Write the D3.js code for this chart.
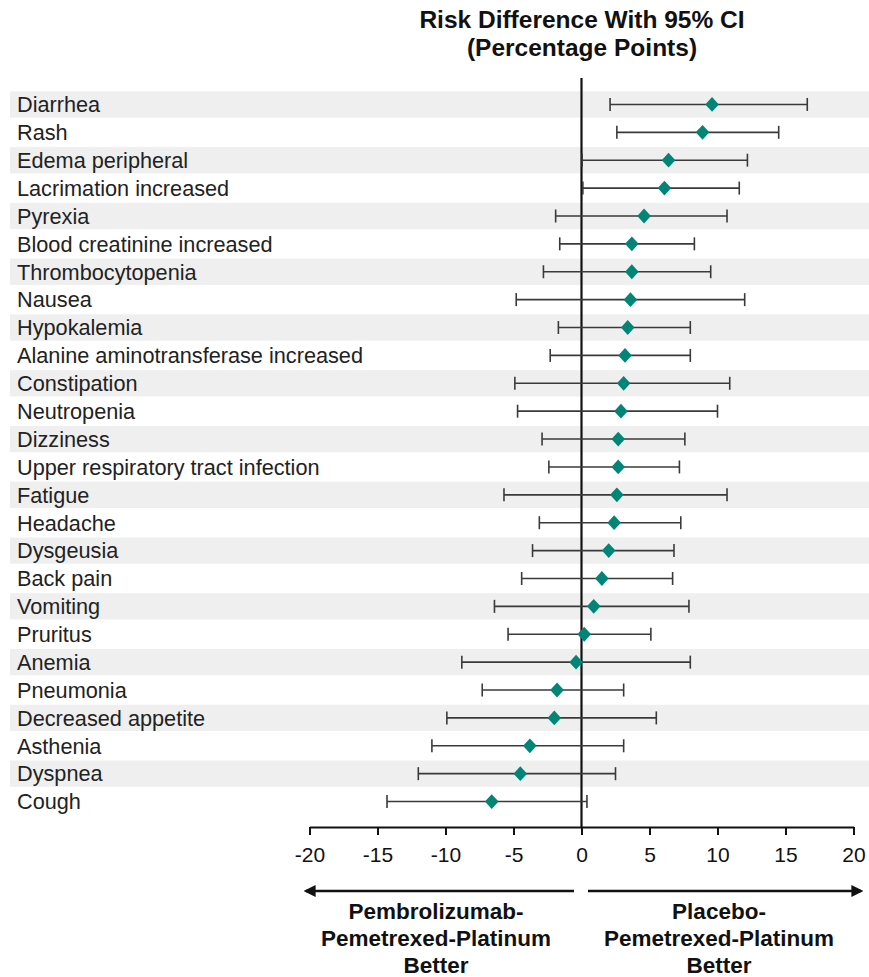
<!DOCTYPE html>
<html>
<head>
<meta charset="utf-8">
<script src="https://cdn.jsdelivr.net/npm/d3@7"></script>
<style>
  html, body { margin: 0; padding: 0; background: #fff; }
  svg { display: block; font-family: "Liberation Sans", Arial, sans-serif; }
</style>
</head>
<body>
<svg id="chart" width="869" height="977"></svg>
<script>
// Adverse events, ordered top to bottom
const events = [
  "Diarrhea", "Rash", "Edema peripheral", "Lacrimation increased", "Pyrexia",
  "Blood creatinine increased", "Thrombocytopenia", "Nausea", "Hypokalemia",
  "Alanine aminotransferase increased", "Constipation", "Neutropenia", "Dizziness",
  "Upper respiratory tract infection", "Fatigue", "Headache", "Dysgeusia",
  "Back pain", "Vomiting", "Pruritus", "Anemia", "Pneumonia", "Decreased appetite",
  "Asthenia", "Dyspnea", "Cough"
];
// Risk difference (percentage points) and 95% CI bounds
const riskDiff = [9.6, 8.9, 6.4, 6.1, 4.6, 3.7, 3.7, 3.6, 3.4,
  3.2, 3.1, 2.9, 2.7, 2.7, 2.6, 2.4, 2.0, 1.5, 0.9, 0.2, -0.4,
  -1.8, -2.0, -3.8, -4.5, -6.6];
const ciLow = [2.1, 2.6, 0.05, 0.1, -1.9, -1.6, -2.8, -4.8, -1.7,
  -2.3, -4.9, -4.7, -2.9, -2.4, -5.7, -3.1, -3.6, -4.4, -6.4, -5.4, -8.8,
  -7.3, -9.9, -11.0, -12.0, -14.3];
const ciHigh = [16.6, 14.5, 12.2, 11.6, 10.7, 8.3, 9.5, 12.0, 8.0,
  8.0, 10.9, 10.0, 7.6, 7.2, 10.7, 7.3, 6.8, 6.7, 7.9, 5.1, 8.0,
  3.1, 5.5, 3.1, 2.5, 0.4];
const xTicks = [-20, -15, -10, -5, 0, 5, 10, 15, 20];

const rows = events.map((name, i) => ({
  name, rd: riskDiff[i], lo: ciLow[i], hi: ciHigh[i]
}));

const svg = d3.select("#chart");
const x = d3.scaleLinear().domain([-20, 20]).range([309.5, 853.5]);
const y = d3.scaleBand().domain(events).range([90.5, 815.5]).paddingInner(0).paddingOuter(0);
const yc = d => y(d) + y.bandwidth() / 2;
const axisY = 827;
const ink = "#111";

// Title
const title = svg.append("text")
  .attr("text-anchor", "middle")
  .attr("font-weight", "bold").attr("font-size", 24.5).attr("fill", ink);
title.append("tspan").attr("x", 582).attr("y", 28).text("Risk Difference With 95% CI");
title.append("tspan").attr("x", 582).attr("y", 56).text("(Percentage Points)");

// Alternating row bands
svg.append("g").selectAll("rect")
  .data(rows.filter((d, i) => i % 2 === 0))
  .join("rect")
  .attr("x", 10).attr("width", 859)
  .attr("y", d => y(d.name) + 0.8)
  .attr("height", y.bandwidth() - 1.6)
  .attr("fill", "#efefef");

// Row labels
svg.append("g").selectAll("text")
  .data(rows)
  .join("text")
  .attr("x", 17).attr("y", d => yc(d.name))
  .attr("dy", "0.36em")
  .attr("font-size", 21.7).attr("fill", "#222")
  .text(d => d.name);

// Reference line at zero
svg.append("line")
  .attr("x1", x(0)).attr("x2", x(0))
  .attr("y1", 78).attr("y2", axisY)
  .attr("stroke", ink).attr("stroke-width", 2.2);

// Confidence intervals
const ci = svg.append("g").attr("stroke", "#3a3a3a").attr("stroke-width", 1.6);
ci.selectAll("line.span").data(rows).join("line").attr("class", "span")
  .attr("x1", d => x(d.lo)).attr("x2", d => x(d.hi))
  .attr("y1", d => yc(d.name)).attr("y2", d => yc(d.name));
ci.selectAll("line.capl").data(rows).join("line").attr("class", "capl")
  .attr("x1", d => x(d.lo)).attr("x2", d => x(d.lo))
  .attr("y1", d => yc(d.name) - 6.5).attr("y2", d => yc(d.name) + 6.5);
ci.selectAll("line.caph").data(rows).join("line").attr("class", "caph")
  .attr("x1", d => x(d.hi)).attr("x2", d => x(d.hi))
  .attr("y1", d => yc(d.name) - 6.5).attr("y2", d => yc(d.name) + 6.5);

// Point estimates
svg.append("g").selectAll("path")
  .data(rows)
  .join("path")
  .attr("transform", d => `translate(${x(d.rd)},${yc(d.name)})`)
  .attr("d", "M0,-7.4L6.8,0L0,7.4L-6.8,0Z")
  .attr("fill", "#008577");

// X axis
const axis = svg.append("g")
  .attr("transform", `translate(0,${axisY})`)
  .call(d3.axisBottom(x).tickValues(xTicks).tickSize(8).tickSizeOuter(0).tickFormat(d => String(d)));
axis.select(".domain").attr("stroke", ink).attr("stroke-width", 2.2);
axis.selectAll(".tick line").attr("stroke", ink).attr("stroke-width", 2);
axis.selectAll(".tick text")
  .attr("font-size", 21).attr("fill", ink).attr("font-family", "Liberation Sans, Arial, sans-serif")
  .attr("dy", "0.71em").attr("y", 20);

// Direction arrows
const defs = svg.append("defs");
defs.append("marker").attr("id", "head")
  .attr("viewBox", "0 0 10 10").attr("refX", 8).attr("refY", 5)
  .attr("markerWidth", 5).attr("markerHeight", 5).attr("orient", "auto-start-reverse")
  .append("path").attr("d", "M0,0L10,5L0,10Z").attr("fill", ink);
svg.append("line")
  .attr("x1", 574).attr("x2", 306).attr("y1", 891).attr("y2", 891)
  .attr("stroke", ink).attr("stroke-width", 2.4).attr("marker-end", "url(#head)");
svg.append("line")
  .attr("x1", 588).attr("x2", 861).attr("y1", 891).attr("y2", 891)
  .attr("stroke", ink).attr("stroke-width", 2.4).attr("marker-end", "url(#head)");

// Direction labels
const sides = [
  { cx: 436, lines: ["Pembrolizumab-", "Pemetrexed-Platinum", "Better"] },
  { cx: 719, lines: ["Placebo-", "Pemetrexed-Platinum", "Better"] }
];
sides.forEach(s => {
  const t = svg.append("text").attr("text-anchor", "middle")
    .attr("font-weight", "bold").attr("font-size", 22.5).attr("fill", ink);
  s.lines.forEach((ln, i) => {
    t.append("tspan").attr("x", s.cx).attr("y", 919 + i * 27).text(ln);
  });
});
</script>
</body>
</html>
